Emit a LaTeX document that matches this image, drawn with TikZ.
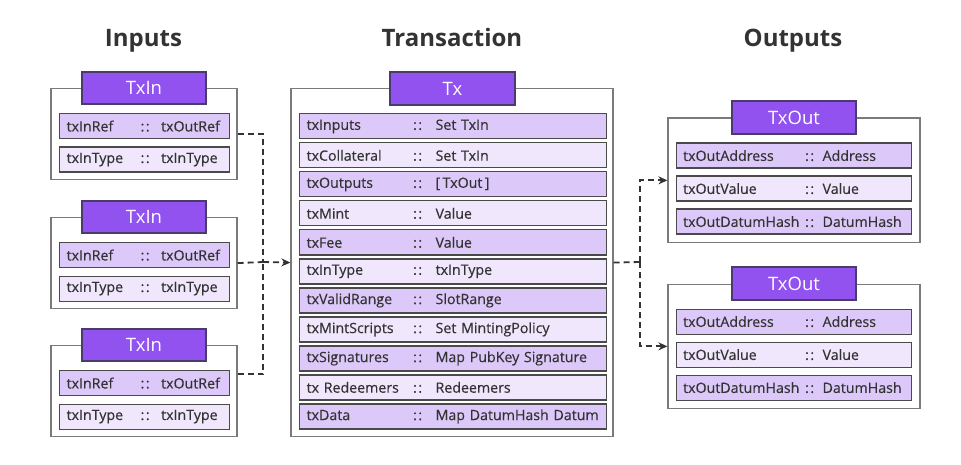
\documentclass[tikz,border=0pt]{standalone}
\usepackage{fontspec}
\setmainfont{Open Sans}
\usetikzlibrary{arrows.meta}
\definecolor{headpurple}{HTML}{9152F0}
\definecolor{headline}{HTML}{4B3B6B}
\definecolor{rowdark}{HTML}{DDC9F9}
\definecolor{rowlight}{HTML}{F0E7FD}
\definecolor{rowline}{HTML}{4A4A4A}
\definecolor{boxline}{HTML}{7A7A7A}
\definecolor{inkgray}{HTML}{333333}
\newcommand\fieldrow[4]{\mbox{\makebox[#1][l]{#3}\makebox[#2][l]{:\hspace{1.5pt}:}#4}}
\begin{document}
\begin{tikzpicture}[
		x=1pt, y=-1pt,
		>={Stealth[length=9pt,width=8pt]},
		every node/.style={inner sep=0pt, text=inkgray},
		title/.style={font=\fontsize{24}{28}\selectfont\bfseries, anchor=base},
		outer/.style={draw=boxline, fill=white, line width=1.2pt, anchor=north},
		head/.style={draw=headline, fill=headpurple, line width=1.2pt, text=white, font=\fontsize{18.5}{20}\selectfont, minimum height=32pt},
		field/.style={draw=rowline, line width=1.2pt, minimum height=25pt, inner xsep=7pt, anchor=north west, align=left, font=\fontsize{14.2}{16}\selectfont\addfontfeatures{FakeBold=0.35}},
		row1/.style={field, fill=rowdark},
		row0/.style={field, fill=rowlight},
		conn/.style={draw=inkgray, line width=1.8pt, dash pattern=on 6pt off 4pt}
	]
	\useasboundingbox (0,0) rectangle (961,465);
	
	\node[title] (tin) at (143.5,46.5) {Inputs};
	\node[title] (ttx) at (452,46.5) {Transaction};
	\node[title] (tout) at (793,46.5) {Outputs};
	
	% inputs
	\foreach \b/\ytop in {1/88,2/217,3/345}{
		\node[outer, minimum width=186pt, minimum height=91pt] (in\b) at (144,\ytop) {};
		\node[head, minimum width=124pt] (in\b-h) at (144,\ytop) {TxIn};
		\node[row1, text width=156pt] (in\b-r1) at (59,{\ytop+25}) {\fieldrow{74pt}{20.5pt}{txInRef}{txOutRef}};
		\node[row0, text width=156pt] (in\b-r2) at (59,{\ytop+58.5}) {\fieldrow{74pt}{20.5pt}{txInType}{txInType}};
	}
	
	% transaction
	\node[outer, minimum width=322pt, minimum height=348pt] (tx) at (452,88) {};
	\node[head, minimum width=125pt, minimum height=33pt] (tx-h) at (452.5,88.5) {Tx};
	\foreach \nm/\ty [count=\i] in {txInputs/Set TxIn, txCollateral/Set TxIn, txOutputs/{[\,TxOut\,]}, txMint/Value, txFee/Value, txInType/txInType, txValidRange/SlotRange, txMintScripts/Set MintingPolicy, txSignatures/Map PubKey Signature, tx Redeemers/Redeemers, txData/Map DatumHash Datum}{
		\pgfmathtruncatemacro\pp{mod(\i,2)}
		\node[row\pp, text width=292.5pt] (tx-r\i) at (299,{84.3+29*\i}) {\fieldrow{106.5pt}{22.5pt}{\nm}{\ty}};
	}
	
	% outputs
	\foreach \b/\ytop in {1/117.5,2/283.5}{
		\node[outer, minimum width=252pt, minimum height=124.5pt] (out\b) at (794,\ytop) {};
		\node[head, minimum width=124pt, minimum height=33pt] (out\b-h) at (794,\ytop) {TxOut};
		\foreach \nm/\ty [count=\i] in {txOutAddress/Address, txOutValue/Value, txOutDatumHash/DatumHash}{
			\pgfmathtruncatemacro\pp{mod(\i,2)}
			\node[row\pp, text width=221.5pt] (out\b-r\i) at (675.5,{\ytop-8+33*\i}) {\fieldrow{122pt}{17.5pt}{\nm}{\ty}};
		}
	}
	
	\coordinate (merge) at (263,262);
	\coordinate (split) at (640,262);
	\draw[conn] (in1.east) -| (merge);
	\draw[conn] ([yshift=17pt]in3.east) -| (merge);
	\draw[conn] (in2.east) -- (merge);
	\draw[conn, ->] (merge) -- (tx.west);
	\draw[conn] (tx.east) -- (split);
	\draw[conn, ->] (split) |- (out1.west);
	\draw[conn, ->] (split) |- (out2.west);
\end{tikzpicture}
\end{document}
